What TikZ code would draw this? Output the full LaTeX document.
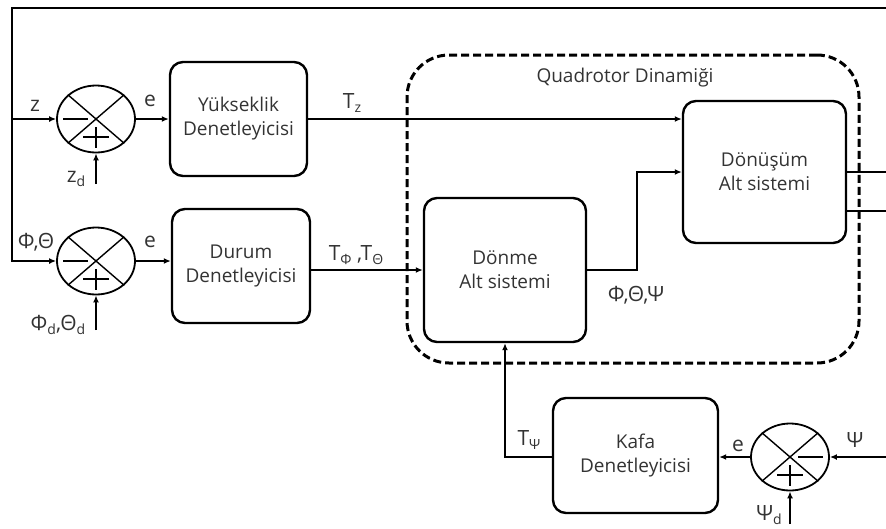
\documentclass[tikz,border=0pt]{standalone}
\usepackage{fontspec}
\setmainfont{Open Sans}
\usetikzlibrary{arrows.meta,shapes.geometric}
\newcommand{\sbx}[1]{\raisebox{-0.3ex}{\fontsize{14}{14}\selectfont #1}}
\begin{document}
\begin{tikzpicture}[x=1pt,y=-1pt,
  blk/.style={draw,line width=2.4pt,rounded corners=13pt,align=center,
    font=\fontsize{19}{24}\selectfont,text=black!80,inner sep=0pt},
  sumj/.style={draw,ellipse,line width=1.8pt,minimum width=78pt,minimum height=67pt,inner sep=0pt},
  arr/.style={line width=1.6pt,-{Latex[length=7pt,width=6pt]}},
  ln/.style={line width=1.6pt},
  lbl/.style={font=\fontsize{21}{21}\selectfont,text=black!80,inner sep=0pt}]
\useasboundingbox (0,0) rectangle (886,528);
% blocks
\node[blk,minimum width=137pt,minimum height=114pt] (yuk) at (238.5,119) {Yükseklik\\Denetleyicisi};
\node[blk,minimum width=138pt,minimum height=114pt] (dur) at (241,266) {Durum\\Denetleyicisi};
\node[blk,minimum width=162pt,minimum height=144pt] (dnm) at (505,270) {Dönme\\Alt sistemi};
\node[blk,minimum width=163pt,minimum height=142pt] (dnu) at (764.5,172) {Dönüşüm\\Alt sistemi};
\node[blk,minimum width=165pt,minimum height=115pt] (kaf) at (635.5,455.5) {Kafa\\Denetleyicisi};
% dashed region
\node[draw,line width=3pt,dash pattern=on 8pt off 4pt,rounded corners=42pt,
  minimum width=452pt,minimum height=308pt] (qd) at (633,209) {};
\node[font=\fontsize{19}{19}\selectfont,text=black!80] (qdl) at (625,78) {Quadrotor Dinamiği};
% summing junctions
\foreach \s/\x/\y in {s1/96/119, s2/96/261, s3/790/457}{
  \node[sumj] (\s) at (\x,\y) {};
  \draw[line width=1.4pt] (\s.north west) -- (\s.south east) (\s.north east) -- (\s.south west);
  \draw[line width=2.6pt] ([xshift=-13pt,yshift=-18pt]\s.center) -- ([xshift=13pt,yshift=-18pt]\s.center)
    ([yshift=-8pt]\s.center) -- ([yshift=-29pt]\s.center);
}
\draw[line width=1.8pt] ([xshift=-33pt]s1.center) -- ([xshift=-8pt]s1.center);
\draw[line width=1.8pt] ([xshift=-33pt]s2.center) -- ([xshift=-8pt]s2.center);
\draw[line width=1.8pt] ([xshift=33pt]s3.center) -- ([xshift=8pt]s3.center);
% coordinates
\coordinate (tr) at (886,8);
\coordinate (tl) at (12,8);
\coordinate (lz) at (12,119);
\coordinate (lp) at (12,261);
\coordinate (zd) at (96,184);
\coordinate (pd) at (96,330);
\coordinate (psd) at (790,524);
\coordinate (psi) at (886,457);
\coordinate (k) at (637,172);
\coordinate (o1) at (886,172);
\coordinate (o2) at (886,211);
% connectors
\draw[arr] (tr) -- (tl) -- (lp) -- (s2.west);
\draw[arr] (lz) -- (s1.west);
\draw[arr] (zd) -- (s1.south);
\draw[arr] (pd) -- (s2.south);
\draw[arr] (s1.east) -- (s1.east -| yuk.west);
\draw[arr] (s2.east) -- (s2.east -| dur.west);
\draw[arr] (yuk.east) -- (yuk.east -| dnu.west);
\draw[arr] (dur.east |- dnm.west) -- (dnm.west);
\draw[arr] (dnm.east) -| (k) -- (dnu.west);
\draw[ln] (dnu.east) -- (o1);
\draw[ln] (o2 -| dnu.east) -- (o2);
\draw[arr] (psi) -- (s3.east);
\draw[arr] (psd) -- (s3.south);
\draw[arr] (s3.west) -- (s3.west -| kaf.east);
\draw[arr] (kaf.west |- s3.west) -| (dnm.south);
% labels
\node[lbl] (lz1) at (35,106) {z};
\node[lbl] (le1) at (150,101) {e};
\node[lbl] (lzd) at (76,179) {z\sbx{d}};
\node[lbl] (lpt) at (36,242) {Φ,Θ};
\node[lbl] (le2) at (150,242) {e};
\node[lbl] (lptd) at (58,325) {Φ\sbx{d},Θ\sbx{d}};
\node[lbl] (ltz) at (352,103) {T\sbx{z}};
\node[lbl] (ltpt) at (356,255) {T\sbx{Φ} ,T\sbx{Θ}};
\node[lbl] (lptp) at (636,295) {Φ,Θ,Ψ};
\node[lbl] (ltp) at (529,440) {T\sbx{Ψ}};
\node[lbl] (le3) at (738,446) {e};
\node[lbl] (lps) at (855,440) {Ψ};
\node[lbl] (lpsd) at (769,515) {Ψ\sbx{d}};
\end{tikzpicture}
\end{document}
